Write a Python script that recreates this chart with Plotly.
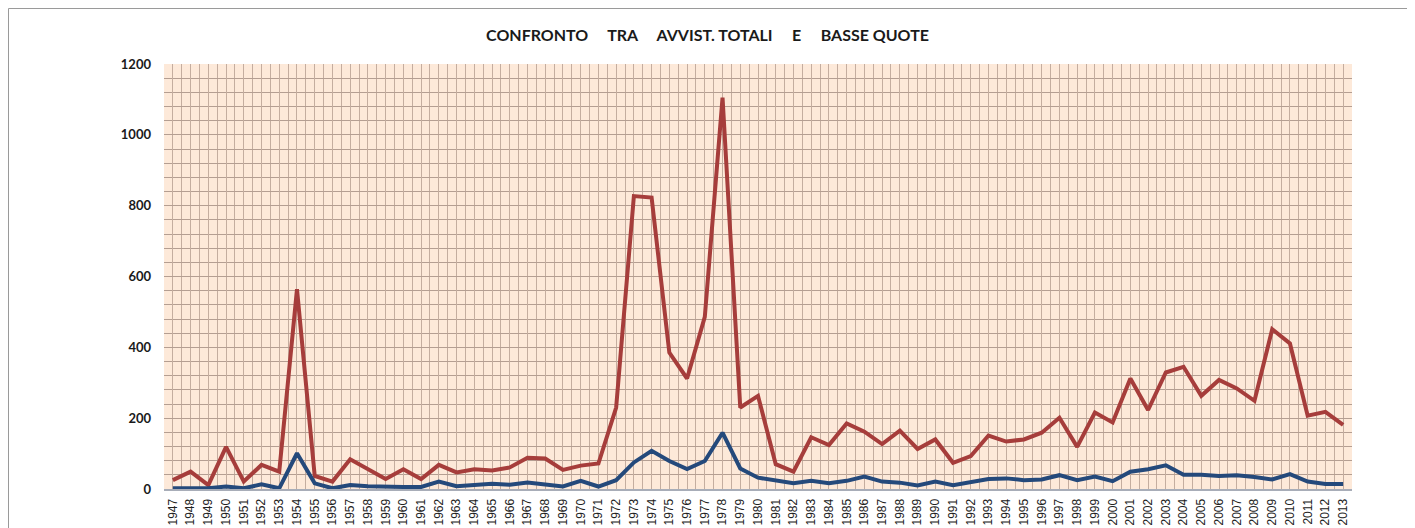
"""Confronto tra avvistamenti totali e basse quote, 1947-2013."""

import plotly.graph_objects as go

years = list(range(1947, 2014))

totali = [
    25, 49, 11, 119, 21, 68, 49, 564, 37, 21,
    84, 56, 28, 56, 28, 68, 47, 56, 52, 61,
    88, 86, 54, 66, 72, 230, 827, 823, 385, 312,
    486, 1105, 230, 263, 70, 49, 146, 124, 185, 162,
    127, 165, 113, 140, 74, 93, 151, 134, 140, 159,
    201, 119, 216, 188, 312, 223, 329, 345, 263, 308,
    284, 249, 451, 411, 207, 218, 181,
]

basse_quote = [
    2, 3, 2, 7, 2, 13, 2, 101, 16, 2,
    11, 8, 6, 6, 6, 21, 8, 12, 15, 12,
    18, 13, 7, 23, 7, 25, 75, 108, 79, 56,
    79, 159, 58, 32, 25, 16, 23, 16, 23, 35,
    21, 18, 10, 21, 11, 20, 28, 30, 25, 27,
    39, 25, 35, 22, 49, 56, 67, 40, 40, 37,
    39, 34, 27, 42, 21, 14, 14,
]

title_text = "\u00a0\u00a0\u00a0\u00a0\u00a0".join(
    ["CONFRONTO", "TRA", "AVVIST. TOTALI", "E", "BASSE QUOTE"]
)

# the page puts the figure 8px in from the top-left corner
W, H = 1407, 520
M_L, M_T, PLOT_W, PLOT_H = 156, 56, 1188, 425

fig = go.Figure()
fig.add_trace(
    go.Scatter(
        x=years, y=totali, mode="lines", name="Avvist. totali",
        line=dict(color="#a63d3b", width=4),
    )
)
fig.add_trace(
    go.Scatter(
        x=years, y=basse_quote, mode="lines", name="Basse quote",
        line=dict(color="#24497b", width=4),
    )
)

frame_x = -(M_L - 0.5) / PLOT_W
frame_y = 1 + (M_T - 0.5) / PLOT_H

fig.update_layout(
    width=W,
    height=H,
    showlegend=False,
    paper_bgcolor="white",
    plot_bgcolor="#fde9d9",
    margin=dict(l=M_L, r=W - M_L - PLOT_W, t=M_T, b=H - M_T - PLOT_H, autoexpand=False),
    title=dict(
        text=title_text,
        x=699.5 / W, xref="container", xanchor="center",
        y=1 - 27 / H, yref="container", yanchor="middle",
        font=dict(family="Lato, Open Sans, sans-serif", size=16, color="#1a1a1a", weight="bold"),
    ),
    # thin frame of the chart area (top and left only are visible)
    shapes=[
        dict(type="line", xref="paper", yref="paper", x0=frame_x, x1=1.2,
             y0=frame_y, y1=frame_y, line=dict(color="#9a9a9a", width=1)),
        dict(type="line", xref="paper", yref="paper", x0=frame_x, x1=frame_x,
             y0=-0.3, y1=frame_y, line=dict(color="#9a9a9a", width=1)),
    ],
)

fig.update_xaxes(
    range=[1946.5, 2013.5],
    tickmode="linear", tick0=1947, dtick=1,
    tickangle=-90,
    tickfont=dict(family="Liberation Sans, Arial, sans-serif", size=12, color="#222222"),
    showgrid=True, gridcolor="#c4ad9f", gridwidth=1,
    minor=dict(tick0=1946.5, dtick=0.5, showgrid=True, gridcolor="#c4ad9f", gridwidth=1),
    showline=True, linecolor="#a8adb8", linewidth=2,
    ticks="", ticklabelstandoff=3,
    automargin=False, fixedrange=True,
)
fig.update_yaxes(
    range=[0, 1200],
    tickmode="linear", tick0=0, dtick=200,
    tickfont=dict(family="Lato, Open Sans, sans-serif", size=13, color="#1a1a1a", weight="bold"),
    showgrid=True, gridcolor="#b49e92", gridwidth=1,
    minor=dict(tick0=0, dtick=40, showgrid=True, gridcolor="#b49e92", gridwidth=1),
    zeroline=False, showline=False,
    ticks="", ticklabelstandoff=12,
    automargin=False, fixedrange=True,
)

# keep the page free of scrollbars
fig.write_html("out.html", post_script="document.body.style.overflow = 'hidden';")
